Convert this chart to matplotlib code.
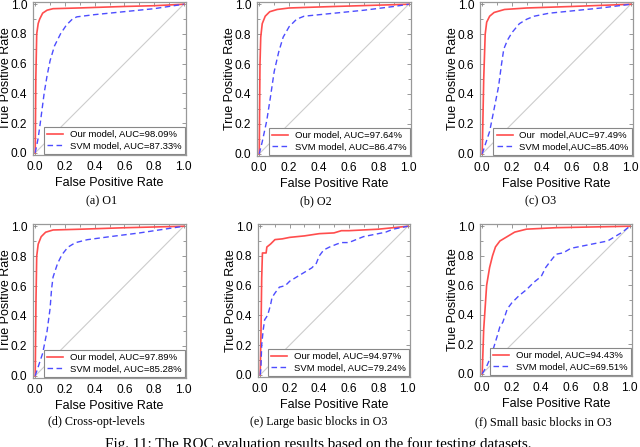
import matplotlib
matplotlib.use('Agg')
import matplotlib.pyplot as plt
from matplotlib.ticker import MultipleLocator

plt.rcParams['font.family'] = ['Liberation Sans', 'DejaVu Sans']

# captions and legend texts
captions = ['(a) O1', '(b) O2', '(c) O3', '(d) Cross-opt-levels',
            '(e) Large basic blocks in O3', '(f) Small basic blocks in O3']
ours_labels = ['Our model, AUC=98.09%', 'Our model, AUC=97.64%', 'Our  model,AUC=97.49%',
               'Our model, AUC=97.89%', 'Our model, AUC=94.97%', 'Our model, AUC=94.43%']
svm_labels = ['SVM model, AUC=87.33%', 'SVM model, AUC=86.47%', 'SVM model,AUC=85.40%',
              'SVM model, AUC=85.28%', 'SVM model, AUC=79.24%', 'SVM model, AUC=69.51%']
fig_caption = 'Fig. 11: The ROC evaluation results based on the four testing datasets.'

diag = [0, 1]

# (a) O1
ours_fpr_a = [0, 0.004, 0.01, 0.02, 0.03, 0.05, 0.08, 0.12, 0.3, 0.6, 0.8, 1.0]
ours_tpr_a = [0, 0.5, 0.8, 0.87, 0.9, 0.94, 0.96, 0.97, 0.975, 0.985, 0.99, 1.0]
svm_fpr_a = [0, 0.02, 0.034, 0.06, 0.08, 0.1, 0.13, 0.17, 0.21, 0.25, 0.28, 0.4, 0.6, 0.8, 1.0]
svm_tpr_a = [0, 0.1, 0.2, 0.4, 0.52, 0.62, 0.72, 0.8, 0.86, 0.9, 0.915, 0.93, 0.95, 0.97, 1.0]

# (b) O2
ours_fpr_b = [0, 0.005, 0.01, 0.02, 0.04, 0.07, 0.12, 0.2, 0.5, 1.0]
ours_tpr_b = [0, 0.6, 0.78, 0.87, 0.92, 0.95, 0.965, 0.975, 0.985, 1.0]
svm_fpr_b = [0, 0.02, 0.05, 0.075, 0.1, 0.13, 0.16, 0.2, 0.25, 0.3, 0.5, 0.7, 0.9, 1.0]
svm_tpr_b = [0, 0.08, 0.22, 0.38, 0.55, 0.68, 0.78, 0.85, 0.9, 0.92, 0.94, 0.96, 0.985, 1.0]

# (c) O3
ours_fpr_c = [0, 0.01, 0.02, 0.03, 0.05, 0.08, 0.15, 0.3, 0.6, 1.0]
ours_tpr_c = [0, 0.5, 0.8, 0.88, 0.92, 0.945, 0.965, 0.975, 0.985, 1.0]
svm_fpr_c = [0, 0.02, 0.05, 0.08, 0.11, 0.13, 0.145, 0.17, 0.2, 0.25, 0.3, 0.35, 0.45, 0.6, 0.8, 1.0]
svm_tpr_c = [0, 0.06, 0.15, 0.3, 0.45, 0.6, 0.7, 0.76, 0.81, 0.87, 0.9, 0.92, 0.94, 0.955, 0.975, 1.0]

# (d) Cross-opt-levels
ours_fpr_d = [0, 0.005, 0.01, 0.02, 0.04, 0.07, 0.12, 0.3, 0.6, 1.0]
ours_tpr_d = [0, 0.5, 0.8, 0.88, 0.93, 0.96, 0.975, 0.98, 0.99, 1.0]
svm_fpr_d = [0, 0.02, 0.05, 0.08, 0.1, 0.11, 0.12, 0.15, 0.18, 0.22, 0.27, 0.35, 0.5, 0.7, 0.9, 1.0]
svm_tpr_d = [0, 0.06, 0.15, 0.3, 0.45, 0.58, 0.66, 0.75, 0.81, 0.86, 0.89, 0.91, 0.93, 0.955, 0.985, 1.0]

# (e) Large basic blocks in O3
ours_fpr_e = [0, 0.005, 0.01, 0.015, 0.04, 0.045, 0.07, 0.1, 0.15, 0.2, 0.3, 0.4, 0.5,
              0.55, 0.6, 0.8, 0.9, 1.0]
ours_tpr_e = [0, 0.27, 0.65, 0.82, 0.82, 0.86, 0.88, 0.91, 0.915, 0.925, 0.935, 0.95, 0.955,
              0.97, 0.97, 0.98, 0.99, 1.0]
svm_fpr_e = [0, 0.005, 0.01, 0.02, 0.03, 0.05, 0.07, 0.08, 0.1, 0.13, 0.17, 0.2, 0.25, 0.3,
             0.35, 0.38, 0.4, 0.43, 0.47, 0.52, 0.55, 0.6, 0.65, 0.7, 0.75, 0.8, 0.85, 0.9, 1.0]
svm_tpr_e = [0, 0.05, 0.2, 0.3, 0.37, 0.4, 0.47, 0.52, 0.55, 0.59, 0.6, 0.63, 0.66, 0.69,
             0.72, 0.75, 0.8, 0.84, 0.86, 0.88, 0.89, 0.89, 0.91, 0.93, 0.94, 0.95, 0.96, 0.98, 1.0]

# (f) Small basic blocks in O3
ours_fpr_f = [0, 0.01, 0.03, 0.05, 0.07, 0.09, 0.12, 0.17, 0.22, 0.3, 0.5, 1.0]
ours_tpr_f = [0, 0.3, 0.6, 0.72, 0.8, 0.86, 0.9, 0.93, 0.96, 0.98, 0.99, 1.0]
svm_fpr_f = [0, 0.03, 0.06, 0.1, 0.12, 0.14, 0.17, 0.2, 0.25, 0.3, 0.35, 0.4, 0.43, 0.46,
             0.5, 0.55, 0.6, 0.7, 0.8, 0.85, 0.9, 0.95, 1.0]
svm_tpr_f = [0, 0.05, 0.12, 0.25, 0.32, 0.35, 0.44, 0.48, 0.53, 0.57, 0.62, 0.66, 0.72, 0.76,
             0.81, 0.82, 0.85, 0.87, 0.89, 0.9, 0.93, 0.96, 1.0]

ours_fpr = [ours_fpr_a, ours_fpr_b, ours_fpr_c, ours_fpr_d, ours_fpr_e, ours_fpr_f]
ours_tpr = [ours_tpr_a, ours_tpr_b, ours_tpr_c, ours_tpr_d, ours_tpr_e, ours_tpr_f]
svm_fpr = [svm_fpr_a, svm_fpr_b, svm_fpr_c, svm_fpr_d, svm_fpr_e, svm_fpr_f]
svm_tpr = [svm_tpr_a, svm_tpr_b, svm_tpr_c, svm_tpr_d, svm_tpr_e, svm_tpr_f]

W, H = 640, 447
fig = plt.figure(figsize=(W / 100, H / 100), dpi=100)

# axes boxes in pixels: left, top, width, height
boxes = [(33, 2, 153, 153), (257, 2, 154, 154), (480, 2, 153, 154),
         (33, 224, 153, 154), (258, 224, 152, 153), (480, 224, 152, 152)]
cap_x = [102, 316, 541, 96, 319, 543]
cap_y = [201, 201, 201, 422, 422, 422]
serif = ['Liberation Serif', 'DejaVu Serif']

for i in range(6):
    l, t, w, h = boxes[i]
    ax = fig.add_axes([l / W, 1 - (t + h) / H, w / W, h / H])
    ax.plot(diag, diag, color='#cccccc', lw=0.8)
    ax.plot(ours_fpr[i], ours_tpr[i], color='#ff4d4d', lw=1.2, label=ours_labels[i])
    ax.plot(svm_fpr[i], svm_tpr[i], color='#4d4dff', lw=1.0, linestyle=(0, (4, 2.5)),
            label=svm_labels[i])
    ax.set_xlim(-0.015, 1.015)
    ax.set_ylim(-0.015, 1.015)
    ax.xaxis.set_major_locator(MultipleLocator(0.2))
    ax.yaxis.set_major_locator(MultipleLocator(0.2))
    ax.xaxis.set_minor_locator(MultipleLocator(0.1))
    ax.yaxis.set_minor_locator(MultipleLocator(0.1))
    ax.tick_params(which='both', direction='in', top=True, right=True, color='#888888')
    ax.tick_params(which='major', length=3, width=0.6, labelsize=8.6, pad=4)
    ax.tick_params(which='minor', length=2, width=0.6)
    for s in ax.spines.values():
        s.set_color('#999999')
        s.set_linewidth(0.9)
    ax.set_xlabel('False Positive Rate', fontsize=9, labelpad=3)
    ax.set_ylabel('True Positive Rate', fontsize=9)
    ax.yaxis.set_label_coords(-0.138, 0.5)
    leg = ax.legend(loc='lower right', fontsize=6.8, fancybox=False, edgecolor='#888888',
                    framealpha=1, borderaxespad=0.12, handlelength=1.7, handletextpad=0.7,
                    borderpad=0.35, labelspacing=0.25)
    leg.get_frame().set_linewidth(0.8)
    fig.text(cap_x[i] / W, 1 - cap_y[i] / H, captions[i], ha='center', va='center',
             fontsize=8.7, family=serif)

fig.text(318 / W, 1 - 448 / H, fig_caption, ha='center', va='baseline', fontsize=10.9,
         family=serif)

fig.savefig('out.png', dpi=100)
